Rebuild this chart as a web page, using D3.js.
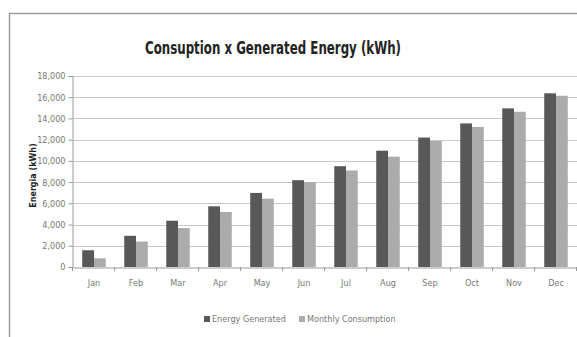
<!DOCTYPE html>
<html>
<head>
<meta charset="utf-8">
<script src="https://cdn.jsdelivr.net/npm/d3@7"></script>
<style>
  body { margin: 0; background: #fff; }
  svg { display: block; }
</style>
</head>
<body>
<div class="chart"></div>
<script>
// data
const months = ["Jan", "Feb", "Mar", "Apr", "May", "Jun", "Jul", "Aug", "Sep", "Oct", "Nov", "Dec"];
const generated = [1580, 2940, 4360, 5720, 6980, 8180, 9500, 10960, 12200, 13530, 14950, 16370];
const consumption = [820, 2400, 3670, 5180, 6440, 7990, 9100, 10400, 11880, 13200, 14630, 16140];
const yTicks = [0, 2000, 4000, 6000, 8000, 10000, 12000, 14000, 16000, 18000];
const seriesNames = ["Energy Generated", "Monthly Consumption"];
const seriesColors = ["#585858", "#ababab"];

const W = 577, H = 337;
const margin = { top: 76, right: 0, bottom: 70, left: 73 };

const svg = d3.select(".chart").append("svg")
  .attr("width", W)
  .attr("height", H);

// chart frame, cropped at right and bottom
svg.append("rect")
  .attr("x", 9.5).attr("y", 13.5)
  .attr("width", W + 20).attr("height", H + 20)
  .attr("fill", "#fff")
  .attr("stroke", "#9a9a9a")
  .attr("stroke-width", 1.5);

const x = d3.scaleBand()
  .domain(months)
  .range([margin.left, W - margin.right])
  .paddingInner(0.44)
  .paddingOuter(0.22);

const xs = d3.scaleBand()
  .domain([0, 1])
  .range([0, x.bandwidth()]);

const y = d3.scaleLinear()
  .domain([0, 18000])
  .range([H - margin.bottom, margin.top]);

// gridlines
svg.append("g")
  .selectAll("line")
  .data(yTicks.slice(1))
  .join("line")
  .attr("x1", margin.left).attr("x2", W)
  .attr("y1", (d) => Math.round(y(d)) + 0.5)
  .attr("y2", (d) => Math.round(y(d)) + 0.5)
  .attr("stroke", "#c8c8c8");

// y axis
const yAxis = svg.append("g")
  .attr("transform", `translate(${margin.left - 0.5},0)`)
  .call(d3.axisLeft(y).tickValues(yTicks).tickSize(4).tickFormat(d3.format(",")));
yAxis.select(".domain").attr("stroke", "#999");
yAxis.selectAll(".tick line").attr("stroke", "#999");
yAxis.selectAll(".tick text")
  .attr("fill", "#777")
  .attr("font-family", "Liberation Sans Narrow, DejaVu Sans Condensed, sans-serif")
  .attr("font-size", 9);

// bars
const groups = svg.append("g")
  .selectAll("g")
  .data(months)
  .join("g")
  .attr("transform", (d) => `translate(${x(d)},0)`);

groups.selectAll("rect")
  .data((d, i) => [generated[i], consumption[i]])
  .join("rect")
  .attr("x", (d, i) => xs(i))
  .attr("width", xs.bandwidth())
  .attr("y", (d) => y(d))
  .attr("height", (d) => y(0) - y(d))
  .attr("fill", (d, i) => seriesColors[i]);

// x axis
const xAxis = svg.append("g")
  .attr("transform", `translate(0,${y(0) + 0.5})`)
  .call(d3.axisBottom(x).tickSize(0).tickPadding(12));
xAxis.select(".domain").attr("stroke", "#999");
xAxis.selectAll(".tick text")
  .attr("fill", "#777")
  .attr("font-family", "Liberation Sans Narrow, DejaVu Sans Condensed, sans-serif")
  .attr("font-size", 9);

// category separators
const step = x.step();
svg.append("g")
  .selectAll("line")
  .data(d3.range(months.length + 1))
  .join("line")
  .attr("x1", (i) => margin.left + i * step - 0.5)
  .attr("x2", (i) => margin.left + i * step - 0.5)
  .attr("y1", y(0))
  .attr("y2", y(0) + 4)
  .attr("stroke", "#999");

// title
svg.append("text")
  .attr("x", 273)
  .attr("y", 54)
  .attr("text-anchor", "middle")
  .attr("font-family", "DejaVu Sans Condensed, sans-serif")
  .attr("font-weight", "bold")
  .attr("font-size", 17)
  .attr("textLength", 256)
  .attr("lengthAdjust", "spacingAndGlyphs")
  .attr("fill", "#222")
  .text("Consuption x Generated Energy (kWh)");

// y axis title
svg.append("text")
  .attr("transform", `translate(36,${(y(0) + y(18000)) / 2 + 4}) rotate(-90)`)
  .attr("text-anchor", "middle")
  .attr("font-family", "DejaVu Sans, sans-serif")
  .attr("font-weight", "bold")
  .attr("font-size", 8)
  .attr("fill", "#222")
  .text("Energia (kWh)");

// legend
const legend = svg.append("g")
  .attr("transform", "translate(204,322)");
const legendX = [0, 95];
seriesNames.forEach((name, i) => {
  const g = legend.append("g").attr("transform", `translate(${legendX[i]},0)`);
  g.append("rect")
    .attr("x", 0).attr("y", -6)
    .attr("width", 6).attr("height", 6)
    .attr("fill", seriesColors[i]);
  g.append("text")
    .attr("x", 8).attr("y", 0)
    .attr("font-family", "Liberation Sans Narrow, DejaVu Sans Condensed, sans-serif")
    .attr("font-size", 9)
    .attr("fill", "#777")
    .text(name);
});
</script>
</body>
</html>
